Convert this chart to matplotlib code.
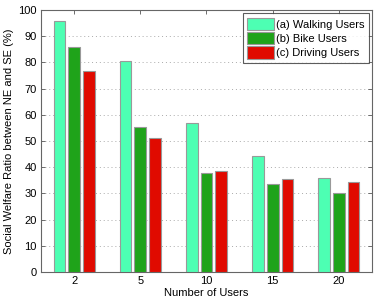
import matplotlib
matplotlib.use("Agg")
import matplotlib.pyplot as plt
import numpy as np

plt.rcParams['font.family'] = ['Liberation Sans', 'DejaVu Sans']

categories = ['2', '5', '10', '15', '20']
walking = [95.8, 80.6, 56.7, 44.1, 35.8]
bike = [86.0, 55.2, 37.7, 33.5, 30.0]
driving = [76.6, 51.0, 38.4, 35.5, 34.5]
series_labels = ['(a) Walking Users', '(b) Bike Users', '(c) Driving Users']
colors = ['#4dffb3', '#1fa31a', '#e00a00']

fig = plt.figure(figsize=(3.88, 3.02), dpi=100)
ax = fig.add_axes([41/388, 1-272/302, 331/388, 262/302])

x = np.arange(1, len(categories)+1)
step = 0.222
w = 0.178
for i, (vals, lab, c) in enumerate(zip([walking, bike, driving], series_labels, colors)):
    ax.bar(x + (i-1)*step, vals, width=w, color=c, edgecolor='#999999', linewidth=0.8, label=lab, zorder=3)

ax.set_xlim(0.5, 5.5)
ax.set_ylim(0, 100)
ax.set_xticks(x)
ax.set_xticklabels(categories)
ax.set_yticks(np.arange(0, 101, 10))
ax.yaxis.grid(True, linestyle=(0, (1, 3)), color='#aaaaaa', linewidth=0.7, zorder=0)
ax.tick_params(direction='in', top=True, right=True, labelsize=8, length=3, width=0.6, colors='#555555', labelcolor='black', pad=3)
for s in ax.spines.values():
    s.set_color('#666666')
    s.set_linewidth(0.8)
ax.set_xlabel('Number of Users', fontsize=8, labelpad=1)
ax.set_ylabel('Social Welfare Ratio between NE and SE (%)', fontsize=8, labelpad=3)
leg = ax.legend(loc='upper right', fontsize=8, frameon=True, fancybox=False, edgecolor='#333333',
                handlelength=2.4, handleheight=1.3, handletextpad=0.15, borderpad=0.4, labelspacing=0.2,
                borderaxespad=0.3)
leg.get_frame().set_linewidth(0.8)
fig.savefig('out.png', dpi=100)
